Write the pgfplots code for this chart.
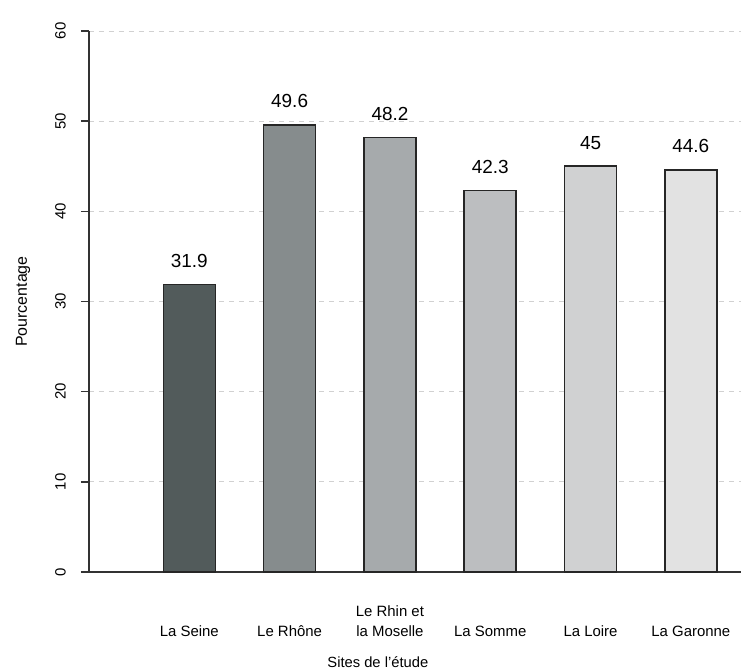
\documentclass[border=0pt]{standalone}
\usepackage{pgfplots}
\pgfplotsset{compat=1.18}
\usepackage{fontspec}
\setmainfont{Liberation Sans}
\definecolor{c1}{HTML}{525B5B}
\definecolor{c2}{HTML}{868C8D}
\definecolor{c3}{HTML}{A6AAAC}
\definecolor{c4}{HTML}{BCBEC0}
\definecolor{c5}{HTML}{D0D1D2}
\definecolor{c6}{HTML}{E2E2E2}
\begin{document}
\begin{tikzpicture}
\begin{axis}[name=ax, scale only axis, width=652bp, height=541bp,
  xmin=-1, xmax=5.5, ymin=0, ymax=60,
  /pgf/number format/assume math mode=true,
  axis x line=bottom, axis y line=left,
  axis line style={-, draw=black!80, line width=1.4pt},
  ytick={0,10,...,60}, ymajorgrids,
  grid style={dash pattern=on 5bp off 5bp, draw=black!18, line width=0.9pt},
  xtick={0,...,5},
  xticklabels={La Seine, Le Rhône, {Le Rhin et\\la Moselle}, La Somme, La Loire, La Garonne},
  x tick style={draw=none}, y tick style={draw=black!80, line width=1.4pt},
  major tick length=8bp, tick align=outside,
  xticklabel style={font=\fontsize{15}{20}\selectfont, align=center, anchor=south, inner sep=0pt},
  xticklabel shift=57bp,
  yticklabel style={font=\fontsize{15}{17}\selectfont, rotate=90, anchor=south, inner sep=0pt},
  yticklabel shift=15bp,
  ylabel={Pourcentage},
  ylabel style={at={(axis description cs:-0.1013,0.5)}, anchor=center, font=\fontsize{16}{18}\selectfont},
  xlabel={Sites de l'étude},
  xlabel style={at={(axis description cs:0.443,-0.1756)}, anchor=base, font=\fontsize{14.8}{18}\selectfont},
  every axis plot/.append style={ybar, bar width=52bp, bar shift=0pt, draw=black!85, line width=1.6pt},
  nodes near coords,
  every node near coord/.append style={font=\fontsize{19}{21}\selectfont, anchor=base, inner sep=0pt, yshift=17bp, text=black},
]
\addplot[fill=c1] coordinates {(0,31.9)};
\addplot[fill=c2] coordinates {(1,49.6)};
\addplot[fill=c3] coordinates {(2,48.2)};
\addplot[fill=c4] coordinates {(3,42.3)};
\addplot[fill=c5] coordinates {(4,45)};
\addplot[fill=c6] coordinates {(5,44.6)};
\end{axis}
\pgfresetboundingbox
\path[use as bounding box] (ax.south west) ++(-89bp,-99bp) rectangle ([yshift=31bp]ax.north east);
\end{tikzpicture}
\end{document}
